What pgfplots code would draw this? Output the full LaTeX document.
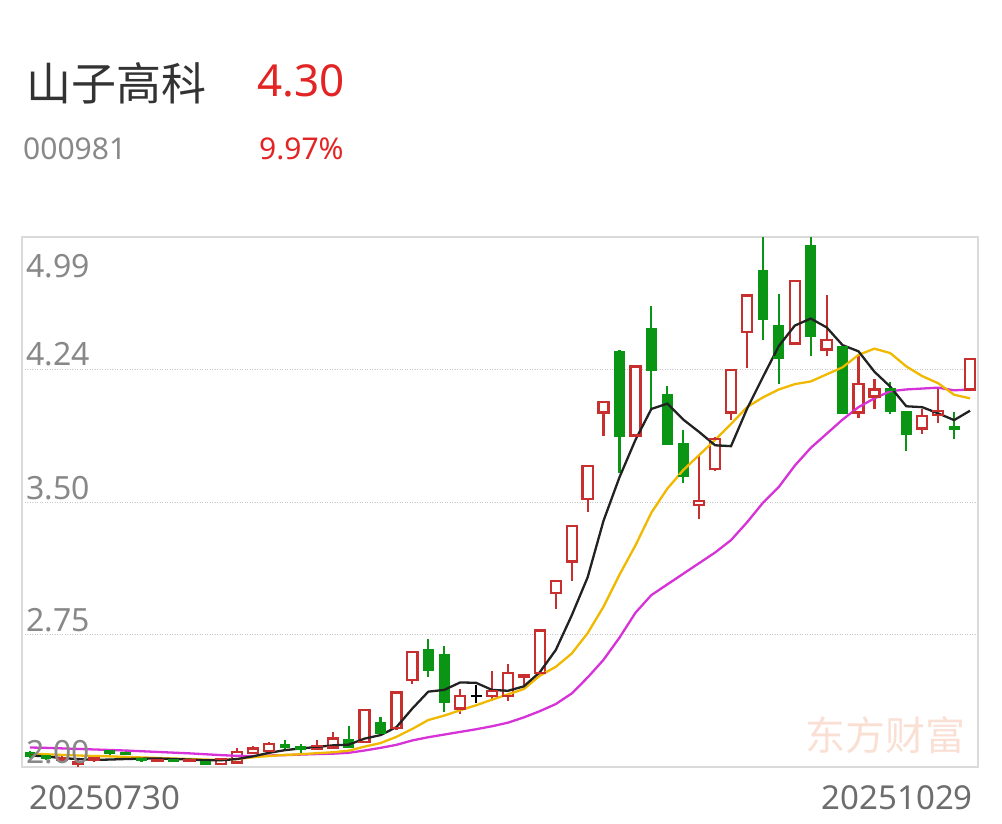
\documentclass[border=0pt]{standalone}
\usepackage{fontspec}
\setmainfont{Noto Sans}
\newfontfamily\cjk{Noto Sans CJK SC}
\usepackage{pgfplots}
\pgfplotsset{compat=1.18}
\usepackage{pgfplotstable}
\definecolor{cred}{RGB}{200,48,48}
\definecolor{cgreen}{RGB}{10,150,20}
\definecolor{tred}{RGB}{226,36,36}
\definecolor{ma5c}{RGB}{34,34,34}
\definecolor{ma10c}{RGB}{240,185,0}
\definecolor{ma20c}{RGB}{215,50,215}
\definecolor{framegray}{RGB}{218,218,218}
\definecolor{gridgray}{RGB}{200,200,200}
\definecolor{labgray}{RGB}{136,136,136}
\definecolor{titlegray}{RGB}{51,51,51}
\definecolor{wm}{RGB}{250,224,212}

\pgfplotstableread{
i ma5 ma10 ma20
0 2.065 2.075 2.110
1 2.060 2.072 2.108
2 2.050 2.068 2.105
3 2.045 2.065 2.102
4 2.040 2.062 2.099
5 2.042 2.060 2.096
6 2.045 2.057 2.093
7 2.047 2.054 2.089
8 2.048 2.051 2.085
9 2.045 2.048 2.081
10 2.042 2.045 2.077
11 2.038 2.042 2.072
12 2.038 2.040 2.067
13 2.045 2.045 2.063
14 2.060 2.055 2.062
15 2.080 2.062 2.065
16 2.095 2.068 2.067
17 2.105 2.072 2.070
18 2.113 2.078 2.073
19 2.122 2.083 2.075
20 2.126 2.092 2.080
21 2.160 2.115 2.093
22 2.180 2.135 2.108
23 2.225 2.170 2.125
24 2.330 2.215 2.150
25 2.425 2.265 2.168
26 2.435 2.290 2.183
27 2.477 2.320 2.198
28 2.475 2.348 2.213
29 2.435 2.380 2.230
30 2.430 2.410 2.250
31 2.455 2.440 2.280
32 2.535 2.515 2.315
33 2.660 2.565 2.355
34 2.855 2.640 2.415
35 3.070 2.755 2.505
36 3.390 2.905 2.605
37 3.635 3.085 2.730
38 3.845 3.250 2.870
39 4.020 3.435 2.970
40 4.050 3.570 3.030
41 3.960 3.675 3.090
42 3.890 3.760 3.150
43 3.815 3.845 3.210
44 3.810 3.935 3.280
45 4.020 4.030 3.380
46 4.200 4.085 3.490
47 4.375 4.130 3.580
48 4.490 4.160 3.700
49 4.530 4.175 3.800
50 4.480 4.215 3.880
51 4.380 4.255 3.960
52 4.345 4.325 4.030
53 4.230 4.360 4.080
54 4.145 4.335 4.120
55 4.035 4.260 4.130
56 4.030 4.205 4.135
57 3.995 4.165 4.140
58 3.957 4.100 4.125
59 4.010 4.080 4.130
}\ma

% args: x, open, high, low, close
\newcommand\cR[5]{%
\addplot[cred, line width=2.2pt] coordinates {(#1,#4) (#1,#3)};
\addplot[cred, line width=12.4pt] coordinates {(#1,#2) (#1,#5)};
\addplot[white, line width=7.8pt] coordinates {(#1,#2) (#1,#5)};
\addplot[cred, only marks, mark=-, mark size=6.2pt, mark options={solid, line width=2.3pt}] coordinates {(#1,#2) (#1,#5)};}
\newcommand\cG[5]{%
\addplot[cgreen, line width=2.1pt] coordinates {(#1,#4) (#1,#3)};
\addplot[cgreen, line width=10.8pt] coordinates {(#1,#2) (#1,#5)};
\addplot[cgreen, only marks, mark=-, mark size=5.4pt, mark options={solid, line width=2.2pt}] coordinates {(#1,#2) (#1,#5)};}
\newcommand\cK[5]{%
\addplot[black, line width=2.1pt] coordinates {(#1,#4) (#1,#3)};
\addplot[black, only marks, mark=-, mark size=5.4pt, mark options={solid, line width=2.2pt}] coordinates {(#1,#2) (#1,#5)};}

\begin{document}
\begin{tikzpicture}
\useasboundingbox (0pt,0pt) rectangle (1002pt,823pt);
\begin{axis}[
  at={(22pt,56pt)}, anchor=south west,
  scale only axis, width=956pt, height=530pt,
  xmin=-0.5, xmax=59.5, ymin=2.00, ymax=4.99,
  xtick=\empty, ytick={2.7475,3.495,4.2425}, yticklabels={},
  major tick length=0pt,
  ymajorgrids, grid style={draw=gridgray, line width=0.8pt, dash pattern=on 1pt off 1.5pt},
  axis line style={draw=framegray, line width=1.8pt},
  clip=true,
]
\cG{0}{2.08}{2.09}{2.05}{2.06}
\cG{1}{2.06}{2.07}{2.04}{2.05}
\cR{2}{2.04}{2.06}{2.03}{2.05}
\cR{3}{2.02}{2.04}{2.00}{2.03}
\cR{4}{2.04}{2.06}{2.03}{2.05}
\cG{5}{2.09}{2.10}{2.07}{2.08}
\cG{6}{2.08}{2.09}{2.07}{2.075}
\cG{7}{2.045}{2.05}{2.03}{2.04}
\cR{8}{2.035}{2.05}{2.03}{2.04}
\cG{9}{2.04}{2.045}{2.03}{2.035}
\cR{10}{2.035}{2.045}{2.03}{2.04}
\cG{11}{2.03}{2.035}{2.01}{2.015}
\cR{12}{2.015}{2.05}{2.01}{2.045}
\cR{13}{2.025}{2.11}{2.02}{2.085}
\cR{14}{2.08}{2.12}{2.075}{2.105}
\cR{15}{2.09}{2.14}{2.085}{2.13}
\cG{16}{2.125}{2.15}{2.09}{2.115}
\cG{17}{2.11}{2.13}{2.08}{2.10}
\cR{18}{2.10}{2.15}{2.095}{2.12}
\cR{19}{2.11}{2.20}{2.105}{2.16}
\cG{20}{2.15}{2.23}{2.11}{2.115}
\cR{21}{2.14}{2.32}{2.14}{2.32}
\cG{22}{2.245}{2.28}{2.19}{2.195}
\cR{23}{2.22}{2.42}{2.21}{2.42}
\cR{24}{2.49}{2.65}{2.47}{2.65}
\cG{25}{2.66}{2.72}{2.51}{2.55}
\cG{26}{2.63}{2.68}{2.31}{2.37}
\cR{27}{2.33}{2.44}{2.30}{2.40}
\cK{28}{2.40}{2.46}{2.36}{2.40}
\cR{29}{2.40}{2.54}{2.37}{2.43}
\cR{30}{2.40}{2.58}{2.37}{2.53}
\cR{31}{2.51}{2.52}{2.46}{2.52}
\cR{32}{2.53}{2.77}{2.52}{2.77}
\cR{33}{2.98}{3.05}{2.89}{3.05}
\cR{34}{3.16}{3.36}{3.05}{3.36}
\cR{35}{3.51}{3.70}{3.44}{3.70}
\cR{36}{4.00}{4.06}{3.87}{4.06}
\cG{37}{4.34}{4.35}{3.66}{3.87}
\cR{38}{3.87}{4.26}{3.87}{4.26}
\cG{39}{4.47}{4.60}{4.02}{4.24}
\cG{40}{4.10}{4.15}{3.82}{3.82}
\cG{41}{3.82}{3.90}{3.60}{3.64}
\cR{42}{3.48}{3.76}{3.40}{3.50}
\cR{43}{3.68}{3.86}{3.67}{3.85}
\cR{44}{4.00}{4.24}{3.96}{4.24}
\cR{45}{4.455}{4.66}{4.25}{4.66}
\cG{46}{4.80}{4.99}{4.41}{4.53}
\cG{47}{4.49}{4.67}{4.16}{4.31}
\cR{48}{4.39}{4.74}{4.38}{4.74}
\cG{49}{4.94}{4.99}{4.32}{4.43}
\cR{50}{4.355}{4.66}{4.32}{4.41}
\cG{51}{4.37}{4.38}{3.99}{4.00}
\cR{52}{4.00}{4.32}{3.97}{4.16}
\cR{53}{4.09}{4.19}{4.02}{4.13}
\cG{54}{4.13}{4.17}{3.99}{4.01}
\cG{55}{4.00}{4.00}{3.78}{3.88}
\cR{56}{3.91}{4.02}{3.88}{3.98}
\cR{57}{3.985}{4.13}{3.94}{4.01}
\cG{58}{3.92}{4.00}{3.85}{3.91}
\cR{59}{4.13}{4.30}{4.13}{4.30}
\addplot[no marks, draw=ma20c, line width=2.3pt] table[x=i, y=ma20]{\ma};
\addplot[no marks, draw=ma10c, line width=2.3pt] table[x=i, y=ma10]{\ma};
\addplot[no marks, draw=ma5c, line width=2.3pt] table[x=i, y=ma5]{\ma};
\end{axis}
% watermark
\node[anchor=center, inner sep=0, text=wm] at (885pt,88pt) {\cjk\fontsize{40}{44}\selectfont 东方财富};
% y labels
\begin{scope}[every node/.style={anchor=west, inner sep=0, text=labgray}]
\node at (26pt,556.5pt) {\fontsize{32}{36}\selectfont 4.99};
\node at (26pt,469.2pt) {\fontsize{32}{36}\selectfont 4.24};
\node at (26pt,335.3pt) {\fontsize{32}{36}\selectfont 3.50};
\node at (26pt,203.2pt) {\fontsize{32}{36}\selectfont 2.75};
\node at (26pt,70.8pt) {\fontsize{32}{36}\selectfont 2.00};
\end{scope}
% x labels
\node[anchor=west, inner sep=0, text=labgray!80!black] at (29pt,25.5pt) {\fontsize{33}{36}\selectfont 20250730};
\node[anchor=east, inner sep=0, text=labgray!80!black] at (973pt,25.5pt) {\fontsize{33}{36}\selectfont 20251029};
% header
\node[anchor=west, inner sep=0, text=titlegray] at (26pt,740pt) {\cjk\fontsize{45}{50}\selectfont 山子高科};
\node[anchor=west, inner sep=0, text=tred] at (257pt,742pt) {\fontsize{44}{48}\selectfont 4.30};
\node[anchor=west, inner sep=0, text=labgray] at (23pt,674pt) {\fontsize{30}{34}\selectfont 000981};
\node[anchor=west, inner sep=0, text=tred] at (259pt,674pt) {\fontsize{30}{34}\selectfont 9.97\%};
\end{tikzpicture}
\end{document}
